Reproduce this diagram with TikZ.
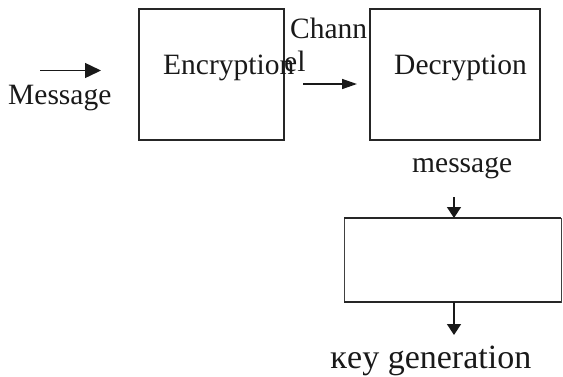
\documentclass[tikz,border=0pt]{standalone}
\usepackage{fontspec}
\setmainfont{Liberation Serif}
\usetikzlibrary{arrows.meta}
\begin{document}
\begin{tikzpicture}[x=1pt,y=-1pt,
  box/.style={draw=black!85,line width=2pt,rectangle,inner sep=0pt},
  lbl/.style={anchor=base west,inner sep=0pt,text=black!90,font=\fontsize{29.5}{32}\selectfont},
  conn/.style={line width=1.5pt,draw=black!90}]
\useasboundingbox (0,0) rectangle (563,376);
% boxes
\node[box,minimum width=145pt,minimum height=131pt] (enc) at (211.5,74.5) {};
\node[box,minimum width=170pt,minimum height=131pt] (dec) at (455,74.5) {};
\draw[draw=black!75,line width=1pt] (344,218) rectangle (561,302);
\draw[draw=black!85,line width=2pt] (344,218) -- (561,218) (344,302) -- (561,302);
\node[inner sep=0pt,minimum width=217pt,minimum height=84pt] (kg) at (452.5,260) {};
% texts
\node[lbl] (tmsg) at (8,104) {Message};
\node[lbl] (tenc) at (163,74) {Encryption};
\node[lbl] (tch1) at (290,38) {Chann};
\node[lbl] (tch2) at (284,71) {el};
\node[lbl] (tdec) at (394,74) {Decryption};
\node[lbl] (tmsg2) at (412,172) {message};
\node[lbl,font=\fontsize{34}{37}\selectfont] (tkey) at (330,368) {ĸey generation};
% connector ends
\coordinate (m0) at (40,70.5);
\coordinate (m1) at (101,70.5);
\coordinate (c0) at (303,84);
\coordinate (c1) at (357,84);
\coordinate (k0) at (454,197);
\coordinate (k1) at (454,218);
\coordinate (k2) at (454,302);
\coordinate (k3) at (454,335);
% arrows
\draw[conn,-{Triangle[length=16pt,width=15pt]}] (m0) -- (m1);
\draw[conn,-{Triangle[length=15pt,width=10pt]}] (c0) -- (c1);
\draw[conn,-{Triangle[length=11pt,width=14pt]}] (k0) -- (k1);
\draw[conn,-{Triangle[length=11pt,width=14pt]}] (k2) -- (k3);
\end{tikzpicture}
\end{document}
